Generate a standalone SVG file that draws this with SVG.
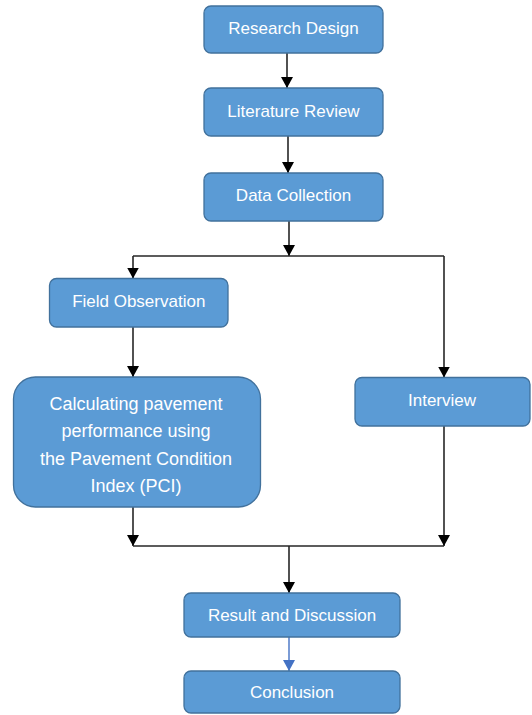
<svg xmlns="http://www.w3.org/2000/svg" width="532" height="715" viewBox="0 0 532 715">
<style>
.box{fill:#5B9BD5;stroke:#41719C;stroke-width:1.3}
.t{font-family:"Liberation Sans",Arial,sans-serif;font-size:17px;fill:#FFFFFF;text-anchor:middle}
.t2{font-size:18px}
.c{fill:none;stroke:#262626;stroke-width:1.6}
.cb{fill:none;stroke:#4472C4;stroke-width:1.4}
</style>
<defs>
<marker id="ah" markerUnits="userSpaceOnUse" markerWidth="12" markerHeight="12" refX="11" refY="6" orient="auto">
<path d="M0,0 L11,6 L0,12 z" fill="#000"/>
</marker>
<marker id="ahb" markerUnits="userSpaceOnUse" markerWidth="12" markerHeight="12" refX="11" refY="6" orient="auto">
<path d="M0,0 L11,6 L0,12 z" fill="#4472C4"/>
</marker>
</defs>
<g id="connectors">
<line class="c" x1="287" y1="53" x2="287" y2="88" marker-end="url(#ah)"/>
<line class="c" x1="288" y1="136" x2="288" y2="173" marker-end="url(#ah)"/>
<line class="c" x1="289" y1="221" x2="289" y2="256" marker-end="url(#ah)"/>
<line class="c" x1="133" y1="256" x2="444" y2="256"/>
<line class="c" x1="133" y1="256" x2="133" y2="278.5" marker-end="url(#ah)"/>
<line class="c" x1="444" y1="256" x2="444" y2="377.5" marker-end="url(#ah)"/>
<line class="c" x1="133" y1="327" x2="133" y2="377" marker-end="url(#ah)"/>
<line class="c" x1="133" y1="507" x2="133" y2="546" marker-end="url(#ah)"/>
<line class="c" x1="444" y1="426" x2="444" y2="546" marker-end="url(#ah)"/>
<line class="c" x1="133" y1="546" x2="444" y2="546"/>
<line class="c" x1="289" y1="546" x2="289" y2="593" marker-end="url(#ah)"/>
<line class="cb" x1="289" y1="637" x2="289" y2="671" marker-end="url(#ahb)"/>
</g>
<g id="research-design">
<rect class="box" x="204" y="6" width="179" height="47" rx="7"/>
<text class="t" x="293.5" y="34">Research Design</text>
</g>
<g id="literature-review">
<rect class="box" x="204" y="88" width="179" height="48" rx="7"/>
<text class="t" x="293.5" y="117">Literature Review</text>
</g>
<g id="data-collection">
<rect class="box" x="204" y="173" width="179" height="48" rx="7"/>
<text class="t" x="293.5" y="201">Data Collection</text>
</g>
<g id="field-observation">
<rect class="box" x="49.5" y="278.5" width="178.5" height="48.5" rx="7"/>
<text class="t" x="138.75" y="307">Field Observation</text>
</g>
<g id="calculating-pci">
<rect class="box" x="13.5" y="377" width="247" height="130" rx="22"/>
<text class="t t2" x="136" y="410">Calculating pavement</text>
<text class="t t2" x="136" y="437">performance using</text>
<text class="t t2" x="136" y="465">the Pavement Condition</text>
<text class="t t2" x="136" y="492">Index (PCI)</text>
</g>
<g id="interview">
<rect class="box" x="355" y="377.5" width="175" height="48.5" rx="7"/>
<text class="t" x="442" y="406">Interview</text>
</g>
<g id="result-discussion">
<rect class="box" x="184" y="593" width="216" height="44" rx="7"/>
<text class="t" x="292" y="621">Result and Discussion</text>
</g>
<g id="conclusion">
<rect class="box" x="184" y="671" width="216" height="42" rx="7"/>
<text class="t" x="292" y="698">Conclusion</text>
</g>
</svg>
